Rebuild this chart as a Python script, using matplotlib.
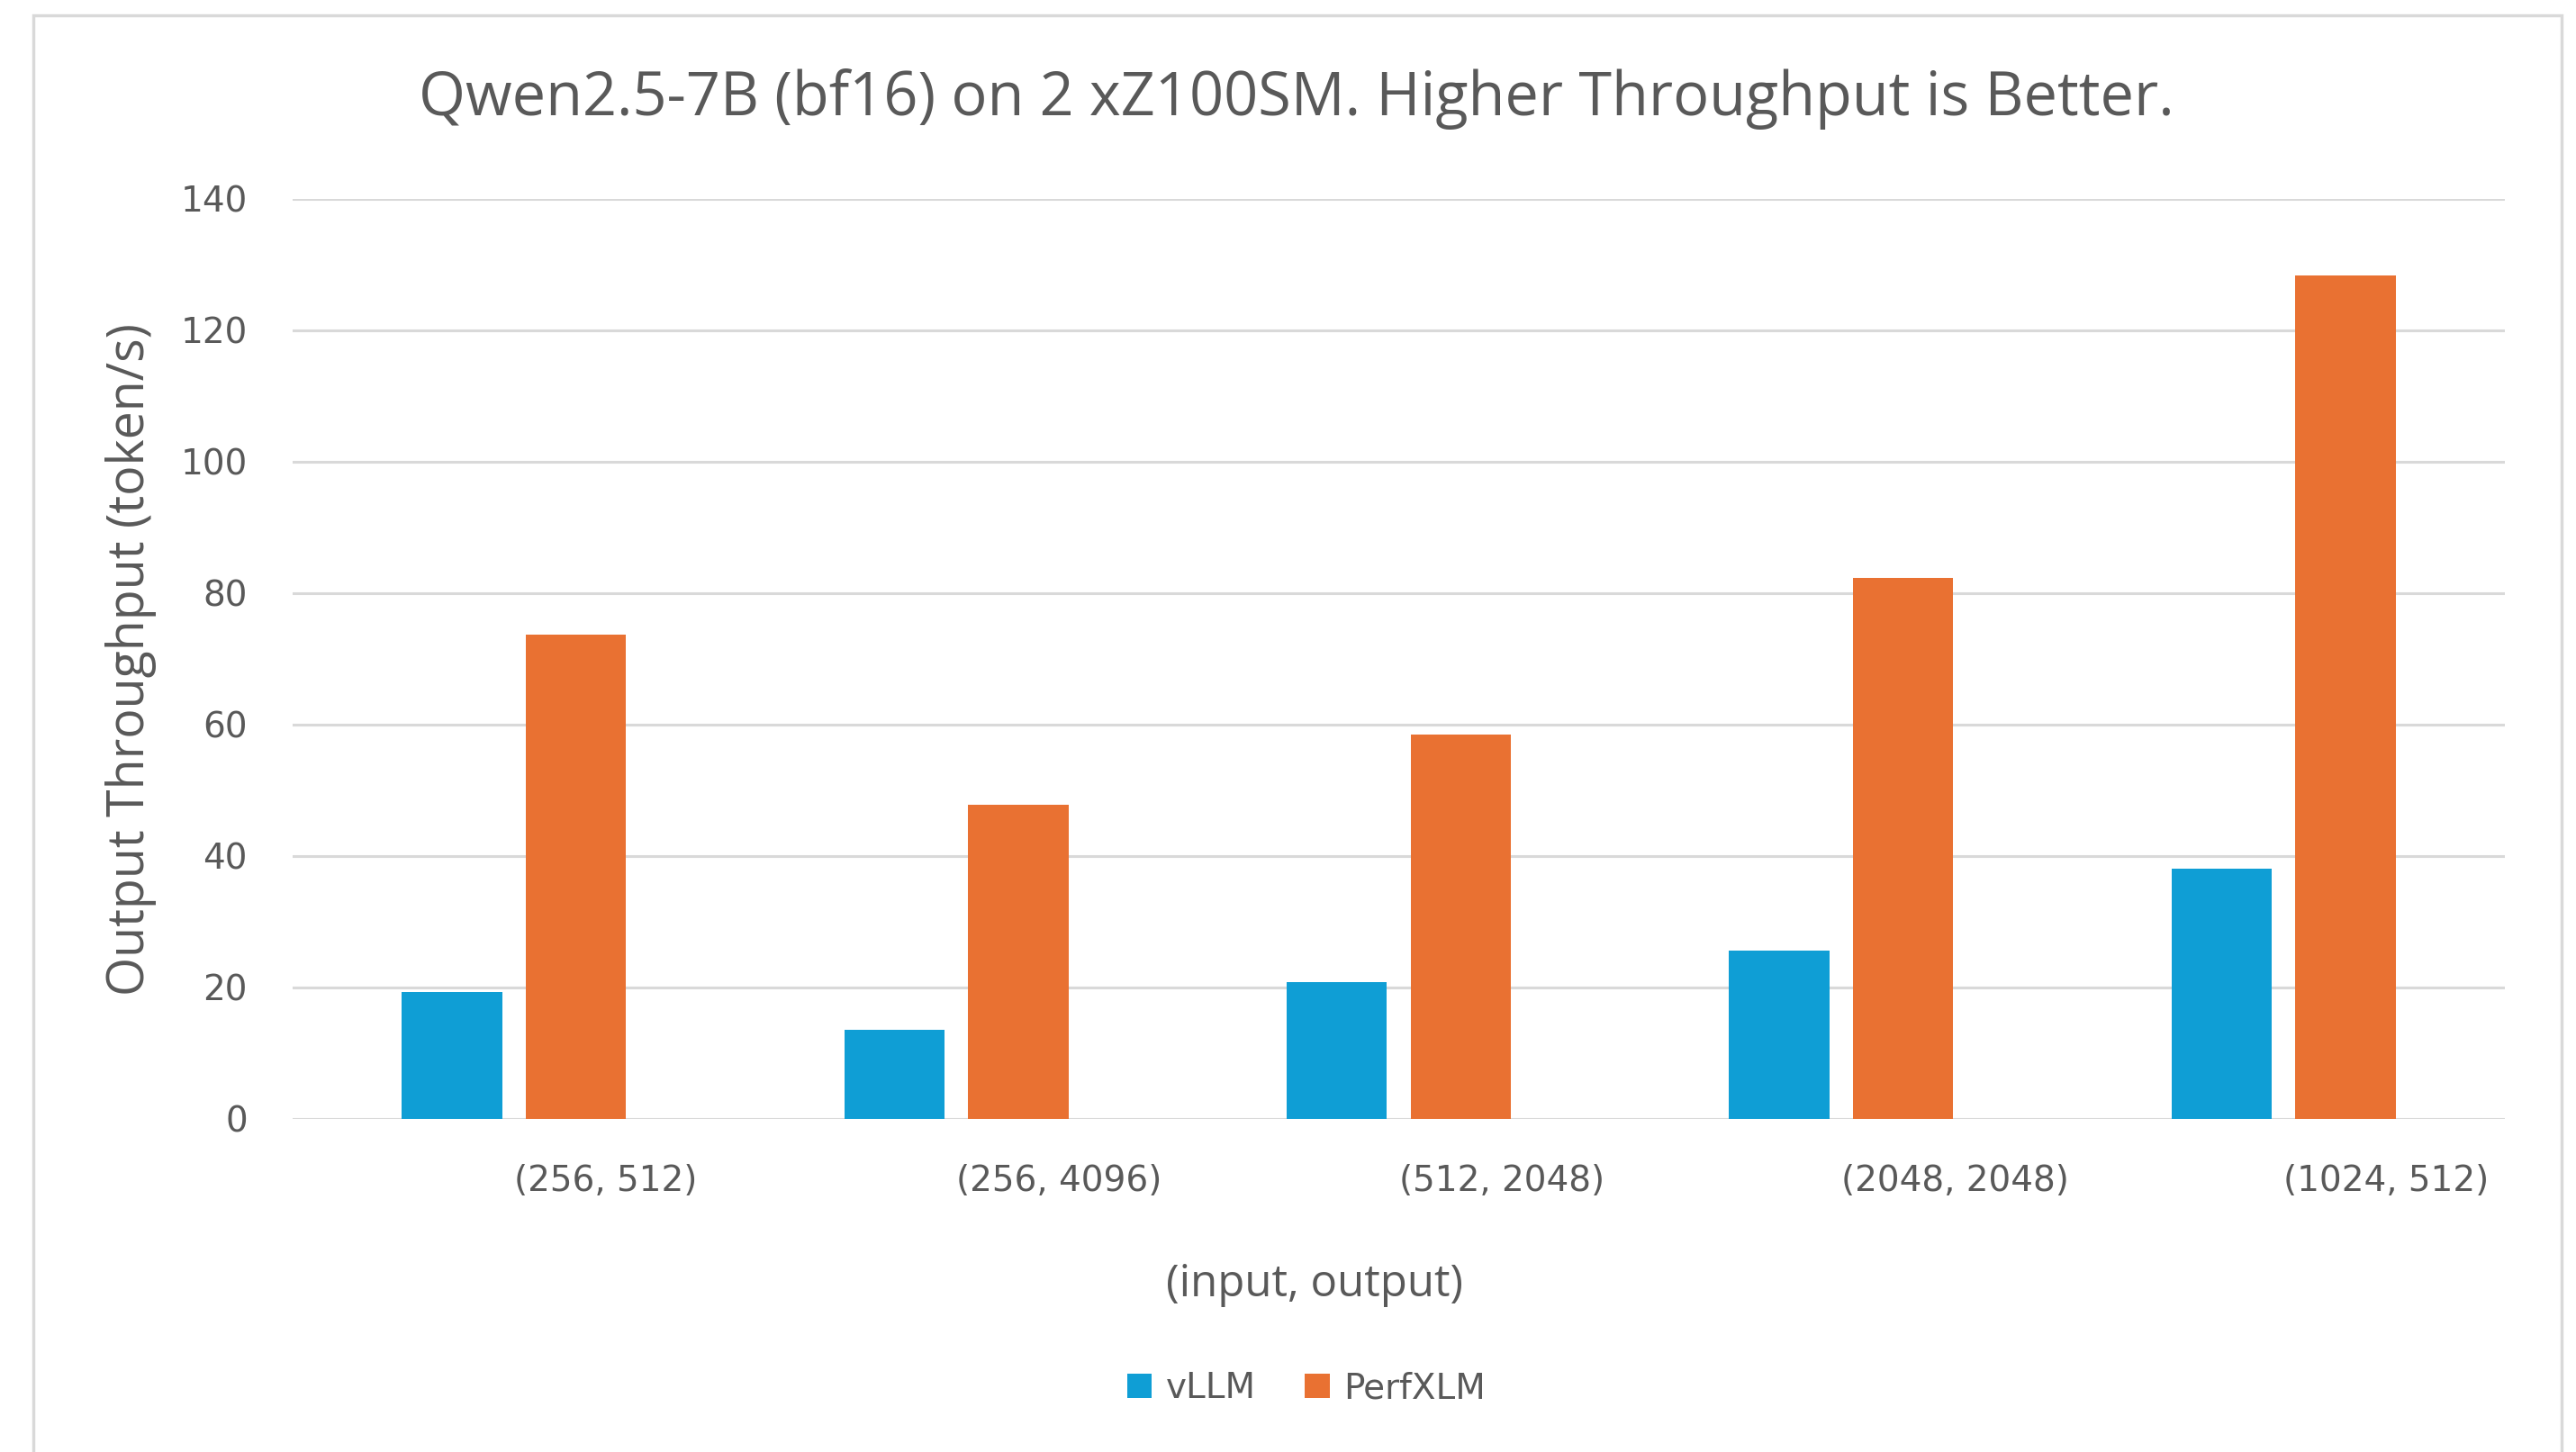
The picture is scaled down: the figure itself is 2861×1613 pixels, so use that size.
import numpy as np
import matplotlib.pyplot as plt
from matplotlib.patches import Rectangle, Patch

# data
categories = ["(256, 512)", "(256, 4096)", "(512, 2048)", "(2048, 2048)", "(1024, 512)"]
vllm = [19.3, 13.5, 20.8, 25.5, 38.0]
perfxlm = [73.6, 47.8, 58.5, 82.3, 128.3]
series_names = ["vLLM", "PerfXLM"]
yticks = [0, 20, 40, 60, 80, 100, 120, 140]

blue = "#0F9ED5"
orange = "#E97132"
text_col = "#595959"
grid_col = "#D9D9D9"
title_font = "Open Sans"

W, H = 2861, 1613
fig = plt.figure(figsize=(W / 100, H / 100), dpi=100)
fig.patch.set_facecolor("white")

# chart border (bottom edge is cut off in the reference)
fig.patches.append(Rectangle((37 / W, -0.05), (2845 - 37) / W, 1.05 - 17 / H,
                             transform=fig.transFigure, fill=False,
                             edgecolor=grid_col, linewidth=2.5))

ax = fig.add_axes([325 / W, 1 - 1242.5 / H, (2782 - 325) / W, (1242.5 - 220.8) / H])
x = np.arange(len(categories))
w = 0.227
ax.bar(x - 0.14, vllm, w, color=blue, zorder=3)
ax.bar(x + 0.14, perfxlm, w, color=orange, zorder=3)

ax.set_xlim(-0.5, len(categories) - 0.5)
ax.set_ylim(0, 140)
ax.set_yticks(yticks)
ax.yaxis.grid(True, color=grid_col, linewidth=2.2, zorder=0)
for s in ax.spines.values():
    s.set_visible(False)
ax.tick_params(axis="both", length=0, colors=text_col, labelsize=28)
ax.tick_params(axis="y", pad=36)
ax.set_xticks(x)
ax.set_xticklabels(categories, ha="left")
ax.tick_params(axis="x", pad=36)

fig.text(1440 / W, 1 - 110 / H, "Qwen2.5-7B (bf16) on 2 xZ100SM. Higher Throughput is Better.",
         ha="center", va="center", fontsize=48, color=text_col, family=title_font,
         weight="medium")
fig.text(1460 / W, 1 - 1427 / H, "(input, output)", ha="center", va="center",
         fontsize=35.5, color=text_col, family=title_font)
fig.text(146 / W, 1 - 732 / H, "Output Throughput (token/s)", ha="center", va="center",
         rotation=90, fontsize=40, color=text_col, family=title_font)

handles = [Patch(facecolor=blue), Patch(facecolor=orange)]
fig.legend(handles, series_names, loc="center", bbox_to_anchor=(1451 / W, 1 - 1542 / H),
           ncol=2, frameon=False, fontsize=28, labelcolor=text_col,
           handlelength=0.7, handleheight=0.7, handletextpad=0.4, columnspacing=1.4)

fig.savefig("out.png", dpi=100)
